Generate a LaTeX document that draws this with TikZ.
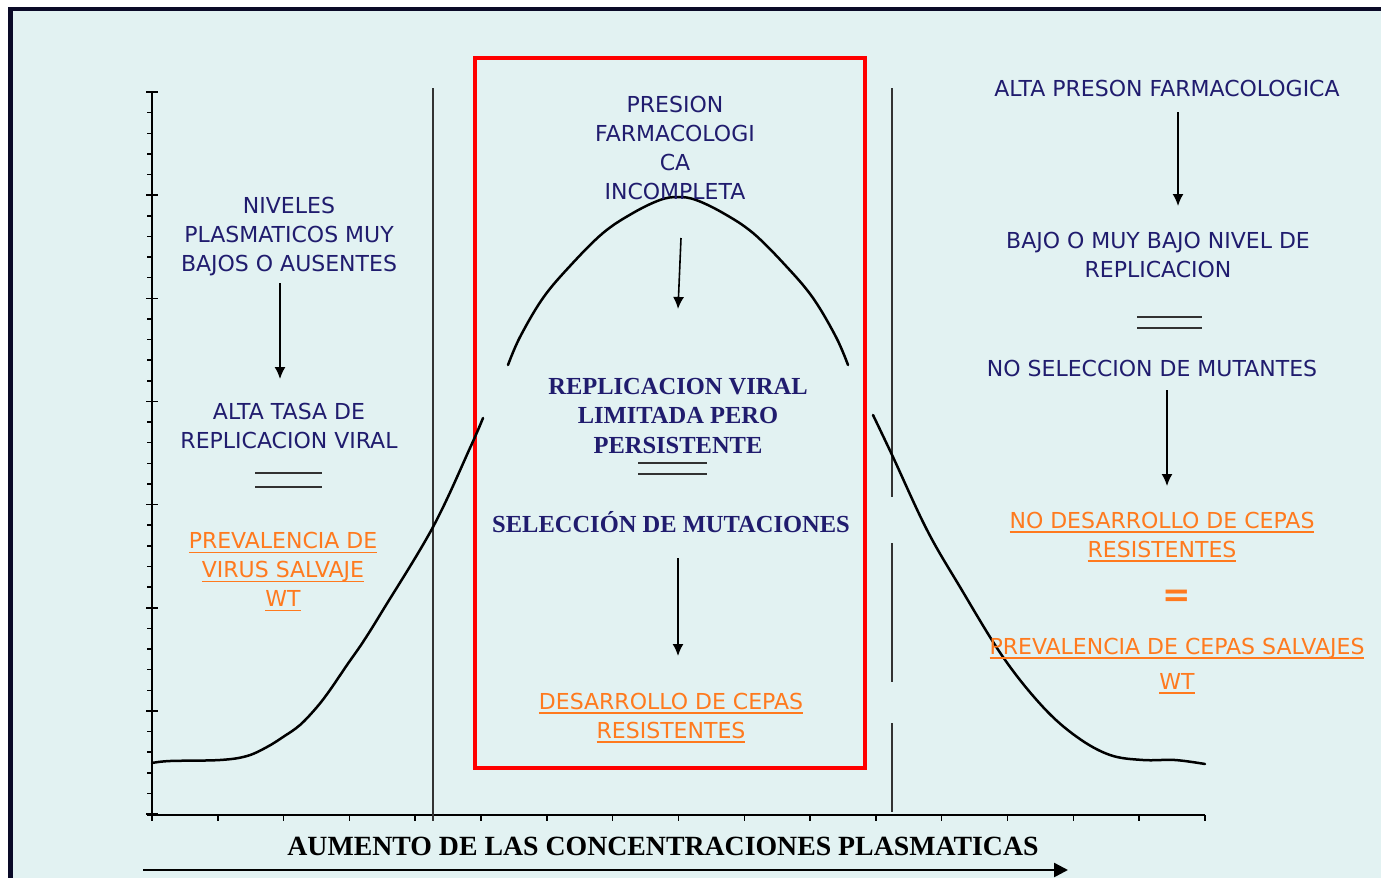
\documentclass[tikz,border=0pt]{standalone}
\usepackage{fontspec}
\setmainfont{Liberation Serif}
\newfontfamily\sansf{DejaVu Sans}
\newfontfamily\serf{Liberation Serif}
\usetikzlibrary{arrows.meta}
\definecolor{navy}{RGB}{32,28,110}
\definecolor{orng}{RGB}{255,122,30}
\definecolor{bgc}{RGB}{226,242,242}
\definecolor{framec}{RGB}{10,10,40}
\definecolor{eqgray}{RGB}{50,50,50}
\newcommand\orul[1]{\leavevmode\setbox0=\hbox{#1}\rlap{\rule[-4.5pt]{\wd0}{1.8pt}}\box0}
\tikzset{
  bt/.style={text=navy, font=\sansf\fontsize{22}{29}\selectfont, align=center, inner sep=0pt},
  ot/.style={text=orng, font=\sansf\fontsize{22}{29}\selectfont, align=center, inner sep=0pt},
  st/.style={text=navy, font=\serf\bfseries\fontsize{24.5}{29.5}\selectfont, align=center, inner sep=0pt},
  bottomlbl/.style={text=black, font=\serf\bfseries\fontsize{27.8}{30}\selectfont, inner sep=0pt},
  arr/.style={line width=1.6pt, -{Latex[length=12pt,width=11pt]}},
  eqline/.style={line width=2pt, draw=eqgray},
  axis/.style={line width=1.6pt, draw=black},
  vline/.style={line width=1.6pt, draw=black!80},
  curve/.style={line width=2.5pt, draw=black, line cap=round},
}
\begin{document}
\begin{tikzpicture}[x=1pt,y=-1pt]
\useasboundingbox (0,0) rectangle (1381,878);
\fill[white] (0,0) rectangle (1381,878);
\fill[framec] (8,7) rectangle (1381,878);
\fill[bgc] (13,11) rectangle (1381,878);

% axes
\draw[axis] (152,92) -- (152,821);
\draw[axis] (147,815) -- (1205,815);
\foreach \i in {0,...,35}{
  \pgfmathsetmacro\yy{92+\i*20.63}
  \pgfmathtruncatemacro\mm{mod(\i,5)}
  \ifnum\mm=0
    \draw[line width=1.5pt] (146,\yy) -- (158,\yy);
  \else
    \draw[line width=1.5pt] (147,\yy) -- (152,\yy);
  \fi
}
\foreach \i in {0,...,16}{
  \draw[line width=1.5pt] ({152+\i*65.81},815) -- ++(0,6);
}

% vertical separators
\draw[vline] (433,88) -- (433,821);
\draw[vline] (892,88) -- (892,497);
\draw[vline] (892,543) -- (892,682);
\draw[vline] (892,723) -- (892,812);

% red box
\draw[red, line width=3.2pt] (475,58) rectangle (865,768);

% bell curve pieces
\draw[curve] plot[smooth, tension=0.6] coordinates {(152,763) (170,761) (220,760) (247,756) (267,747) (283,737) (300,725) (317,707) (330,690) (347,665) (363,642) (383,610) (433,527) (470,448) (483,418)};
\draw[curve] plot[smooth, tension=0.6] coordinates {(508,365) (520,337) (543,298) (570,266) (603,233) (633,213) (660,200) (678,197) (696,200) (723,213) (753,233) (786,266) (813,298) (836,337) (848,365)};
\draw[curve] plot[smooth, tension=0.6] coordinates {(873,415) (893,457) (927,530) (960,587) (1003,657) (1043,707) (1077,737) (1110,755) (1143,760) (1175,760) (1205,764)};

% left column
\node[bt] (nivel) at (289,237) {NIVELES\\PLASMATICOS MUY\\BAJOS O AUSENTES};
\coordinate (a1s) at (280,283);
\coordinate (a1e) at (280,379);
\draw[arr] (a1s) -- (a1e);
\node[bt] (alta) at (289,426) {ALTA TASA DE\\REPLICACION VIRAL};
\draw[eqline] (255,473) -- (322,473);
\draw[eqline] (255,487) -- (322,487);
\node[ot] (prev) at (283,572) {\orul{PREVALENCIA DE}\\\orul{VIRUS SALVAJE}\\\orul{WT}};

% middle column
\node[bt] (pres) at (675,148) {PRESION\\FARMACOLOGI\\CA\\INCOMPLETA};
\coordinate (a2s) at (681,238);
\coordinate (a2e) at (678,309);
\draw[arr] (a2s) -- (a2e);
\node[st] (repl) at (678,416) {REPLICACION VIRAL\\LIMITADA PERO\\PERSISTENTE};
\draw[eqline] (638,463) -- (707,463);
\draw[eqline] (638,474) -- (707,474);
\node[st] (selm) at (671,522) {SELECCIÓN DE MUTACIONES};
\coordinate (a3s) at (678,558);
\coordinate (a3e) at (678,656);
\draw[arr] (a3s) -- (a3e);
\node[ot] (desa) at (671,718) {\orul{DESARROLLO DE CEPAS}\\\orul{RESISTENTES}};

% right column
\node[bt] (altp) at (1167,88) {ALTA PRESON FARMACOLOGICA};
\coordinate (a4s) at (1178,112);
\coordinate (a4e) at (1178,206);
\draw[arr] (a4s) -- (a4e);
\node[bt] (bajo) at (1158,255) {BAJO O MUY BAJO NIVEL DE\\REPLICACION};
\draw[eqline] (1137,317) -- (1202,317);
\draw[eqline] (1137,328) -- (1202,328);
\node[bt] (nosel) at (1152,368) {NO SELECCION DE MUTANTES};
\coordinate (a5s) at (1167,390);
\coordinate (a5e) at (1167,486);
\draw[arr] (a5s) -- (a5e);
\node[ot] (nodes) at (1162,537) {\orul{NO DESARROLLO DE CEPAS}\\\orul{RESISTENTES}};
\node[ot, font=\sansf\bfseries\fontsize{34}{34}\selectfont] (eqo) at (1177,598) {=};
\node[ot] (prevc) at (1177,666) {\orul{PREVALENCIA DE CEPAS SALVAJES}\\[6pt]\orul{WT}};

% bottom label and arrow
\node[bottomlbl] (aum) at (663,846) {AUMENTO DE LAS CONCENTRACIONES PLASMATICAS};
\coordinate (bas) at (143,870);
\coordinate (bae) at (1068,870);
\draw[line width=2.5pt, -{Triangle[length=14pt,width=14pt]}] (bas) -- (bae);
\end{tikzpicture}
\end{document}
